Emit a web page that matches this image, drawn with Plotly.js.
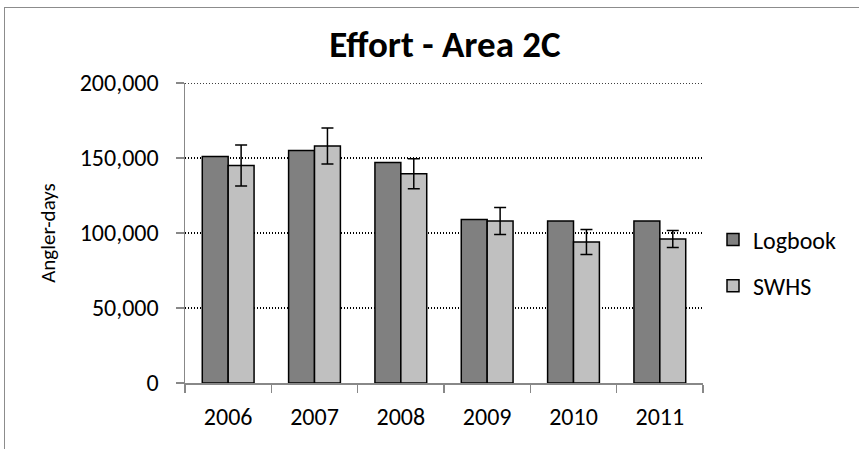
<!DOCTYPE html>
<html><head><meta charset="utf-8">
<script src="https://cdn.plot.ly/plotly-3.0.1.min.js"></script>
<style>
html,body{margin:0;padding:0;background:#fff;}
#wrap{position:relative;width:859px;height:449px;overflow:hidden;}
#chart{position:absolute;left:0;top:0;width:859px;height:449px;}
#frame{position:absolute;left:4px;top:7px;width:900px;height:500px;border:1.5px solid #8c8c8c;pointer-events:none;}
</style></head>
<body>
<div id="wrap"><div id="chart"></div><div id="frame"></div></div>
<script>
var years = ['2006','2007','2008','2009','2010','2011'];
var logbook = [151000, 155000, 147000, 109000, 108000, 108000];
var swhs = [145000, 158000, 139500, 108000, 94000, 96000];
var swhsErr = [13700, 12000, 10000, 9000, 8300, 5700];
var yTicks = [0, 50000, 100000, 150000, 200000];

var FONT = 'Carlito, Open Sans, sans-serif';

var traces = [
  {type:'bar', name:'Logbook', x:years, y:logbook, legendgroup:'a',
   marker:{color:'#808080', line:{color:'#000', width:1.5}}},
  {type:'bar', name:'SWHS', x:years, y:swhs, legendgroup:'b',
   marker:{color:'#c0c0c0', line:{color:'#000', width:1.5}},
   error_y:{type:'data', array:swhsErr, visible:true, color:'#000', thickness:1.5, width:6}}
];

var yMax = yTicks[yTicks.length - 1];

var layout = {
  width:859, height:449,
  margin:{l:185, r:156, t:83, b:66},
  paper_bgcolor:'rgba(0,0,0,0)', plot_bgcolor:'rgba(0,0,0,0)',
  font:{family:FONT, size:24, color:'#000'},
  title:{text:'<b>Effort - Area 2C</b>', font:{family:FONT, size:37, color:'#000'}, x:0.518, xanchor:'center', y:0.902, yanchor:'middle'},
  barmode:'group', bargap:0.4, bargroupgap:0,
  showlegend:true,
  legend:{x:1 + 10/518, xanchor:'left', y:0.4, yanchor:'middle', traceorder:'grouped', tracegroupgap:12,
          font:{family:FONT, size:24, color:'#000'}, bgcolor:'rgba(0,0,0,0)', itemwidth:30},
  xaxis:{type:'category', showline:true, linecolor:'#888', linewidth:1.5, ticks:'outside', tickson:'boundaries',
         ticklen:8, tickcolor:'#888', tickwidth:1.5, showgrid:false, tickfont:{family:FONT, size:24}, ticklabelstandoff:12},
  yaxis:{range:[0,yMax], tickvals:yTicks, tickformat:',', showline:true, linecolor:'#888', linewidth:1.5,
         ticks:'outside', ticklen:8, tickcolor:'#888', tickwidth:1.5, showgrid:true, gridcolor:'#000', griddash:'1px,2px', gridwidth:1.3,
         zeroline:false, tickfont:{family:FONT, size:24}, ticklabelstandoff:12,
         title:{text:'Angler-days', font:{family:FONT, size:21}, standoff:18}},
  shapes:[{type:'line', xref:'paper', yref:'y', x0:0, x1:1, y0:yMax, y1:yMax, layer:'below',
           line:{color:'#000', width:1.3, dash:'1px,2px'}}]
};

Plotly.newPlot('chart', traces, layout, {displayModeBar:false, staticPlot:true});
</script>
</body></html>
